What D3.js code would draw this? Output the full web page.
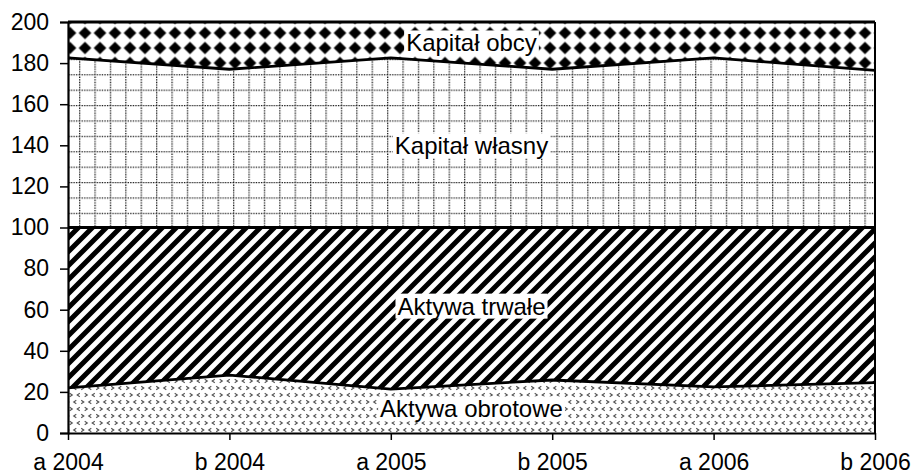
<!DOCTYPE html>
<html><head><meta charset="utf-8">
<script src="https://cdn.jsdelivr.net/npm/d3@7"></script>
<style>body{margin:0;background:#fff}</style>
</head><body>
<svg id="c" width="912" height="475"></svg>
<script>
const categories = ["a 2004","b 2004","a 2005","b 2005","a 2006","b 2006"];
const aktywaObrotowe = [22, 28.2, 21.4, 25.8, 22.4, 24.5];
const aktywaTrwale   = [78, 71.8, 78.6, 74.2, 77.6, 75.5];
const kapitalWlasny  = [82.5, 77, 82.5, 77, 82.5, 76.5];
const kapitalObcy    = [17.5, 23, 17.5, 23, 17.5, 23.5];
const seriesNames = ["Aktywa obrotowe","Aktywa trwałe","Kapitał własny","Kapitał obcy"];
const yTicks = [0,20,40,60,80,100,120,140,160,180,200];

const svg = d3.select("#c");
const L = 68, R = 875, T = 22, B = 433;
const x = d3.scalePoint().domain(categories).range([L, R]);
const y = d3.scaleLinear().domain([0, 200]).range([B, T]);

const rows = categories.map((c, i) => ({
  cat: c,
  "Aktywa obrotowe": aktywaObrotowe[i],
  "Aktywa trwałe": aktywaTrwale[i],
  "Kapitał własny": kapitalWlasny[i],
  "Kapitał obcy": kapitalObcy[i]
}));
const stacked = d3.stack().keys(seriesNames)(rows);

// patterns
const defs = svg.append("defs");
// chevrons
const p0 = defs.append("pattern").attr("id","pObr").attr("patternUnits","userSpaceOnUse")
  .attr("x", L).attr("y", 0).attr("width", 15).attr("height", 14);
p0.append("rect").attr("width",15).attr("height",14).attr("fill","#fff");
const chev = [[3,3,1],[10.5,3,-1],[7,10,-1],[14.5,10,1],[-0.5,10,1]];
chev.forEach(([cx,cy,d]) => {
  p0.append("path").attr("d", `M${cx - d*1.3},${cy-1.7} L${cx + d*1.3},${cy} L${cx - d*1.3},${cy+1.7}`)
    .attr("fill","none").attr("stroke","#555").attr("stroke-width",1.1);
});
// diagonal stripes
const p1 = defs.append("pattern").attr("id","pTrw").attr("patternUnits","userSpaceOnUse")
  .attr("x", L).attr("y", 0).attr("width", 14).attr("height", 14);
p1.append("rect").attr("width",14).attr("height",14).attr("fill","#fff");
p1.append("path").attr("d","M-7,7 L7,-7 M0,14 L14,0 M7,21 L21,7")
  .attr("stroke","#000").attr("stroke-width",5).attr("fill","none");
// dotted grid
const gs = 15.4;
const p2 = defs.append("pattern").attr("id","pWl").attr("patternUnits","userSpaceOnUse")
  .attr("x", 79).attr("y", 105).attr("width", gs).attr("height", gs);
p2.append("rect").attr("width",gs).attr("height",gs).attr("fill","#fff");
p2.append("path").attr("d",`M0,0.6 L${gs},0.6 M0.6,0 L0.6,${gs}`)
  .attr("stroke","#111").attr("stroke-width",1.4).attr("stroke-dasharray","1.3,1.2").attr("fill","none");
// diamonds
const p3 = defs.append("pattern").attr("id","pOb").attr("patternUnits","userSpaceOnUse")
  .attr("x", 2.5).attr("y", -4.5).attr("width", 15).attr("height", 15);
p3.append("rect").attr("width",15).attr("height",15).attr("fill","#fff");
p3.append("path").attr("d","M7.5,1.2 L13.8,7.5 L7.5,13.8 L1.2,7.5 Z").attr("fill","#000");

const fills = ["url(#pObr)","url(#pTrw)","url(#pWl)","url(#pOb)"];

const area = d3.area().x(d => x(d.data.cat)).y0(d => y(d[0])).y1(d => y(d[1]));
const line = d3.line().x(d => x(d.data.cat)).y(d => y(d[1]));

svg.append("g").selectAll("path").data(stacked).join("path")
  .attr("d", area).attr("fill", (d,i) => fills[i]);
svg.append("g").selectAll("path").data(stacked).join("path")
  .attr("d", line).attr("fill","none").attr("stroke","#000").attr("stroke-width",2.8);

// right border
svg.append("line").attr("x1",R).attr("x2",R).attr("y1",y(0)).attr("y2",y(200))
  .attr("stroke","#000").attr("stroke-width",2);

// axes
const font = "Arial, 'Liberation Sans', sans-serif";
const yAxis = svg.append("g").attr("transform",`translate(${L},0)`)
  .call(d3.axisLeft(y).tickValues(yTicks).tickSize(8).tickPadding(11).tickFormat(d3.format("d")));
yAxis.select(".domain").attr("stroke-width",2.2);
yAxis.selectAll(".tick line").attr("stroke-width",1.5);
yAxis.selectAll("text").attr("font-family",font).attr("font-size",23).attr("fill","#000");

const xAxis = svg.append("g").attr("transform",`translate(0,${B})`)
  .call(d3.axisBottom(x).tickSize(7).tickPadding(14).tickSizeOuter(0));
xAxis.select(".domain").attr("stroke-width",2.2);
xAxis.selectAll(".tick line").attr("stroke-width",1.5);
xAxis.selectAll("text").attr("font-family",font).attr("font-size",23).attr("fill","#000");

// labels
const cx = (L + R) / 2;
const t = (cx - x(categories[2])) / (x(categories[3]) - x(categories[2]));
stacked.forEach((s, i) => {
  const lo = s[2][0] + (s[3][0] - s[2][0]) * t;
  const hi = s[2][1] + (s[3][1] - s[2][1]) * t;
  const g = svg.append("g");
  const txt = g.append("text").attr("x", cx).attr("y", y((lo + hi) / 2)).attr("dy","0.36em")
    .attr("text-anchor","middle").attr("font-family",font).attr("font-size",24).attr("fill","#000")
    .text(seriesNames[i]);
  const bb = txt.node().getBBox();
  g.insert("rect","text").attr("x", bb.x - 2).attr("y", bb.y + 1).attr("width", bb.width + 4)
    .attr("height", bb.height - 2).attr("fill","#fff");
});
</script>
</body></html>
